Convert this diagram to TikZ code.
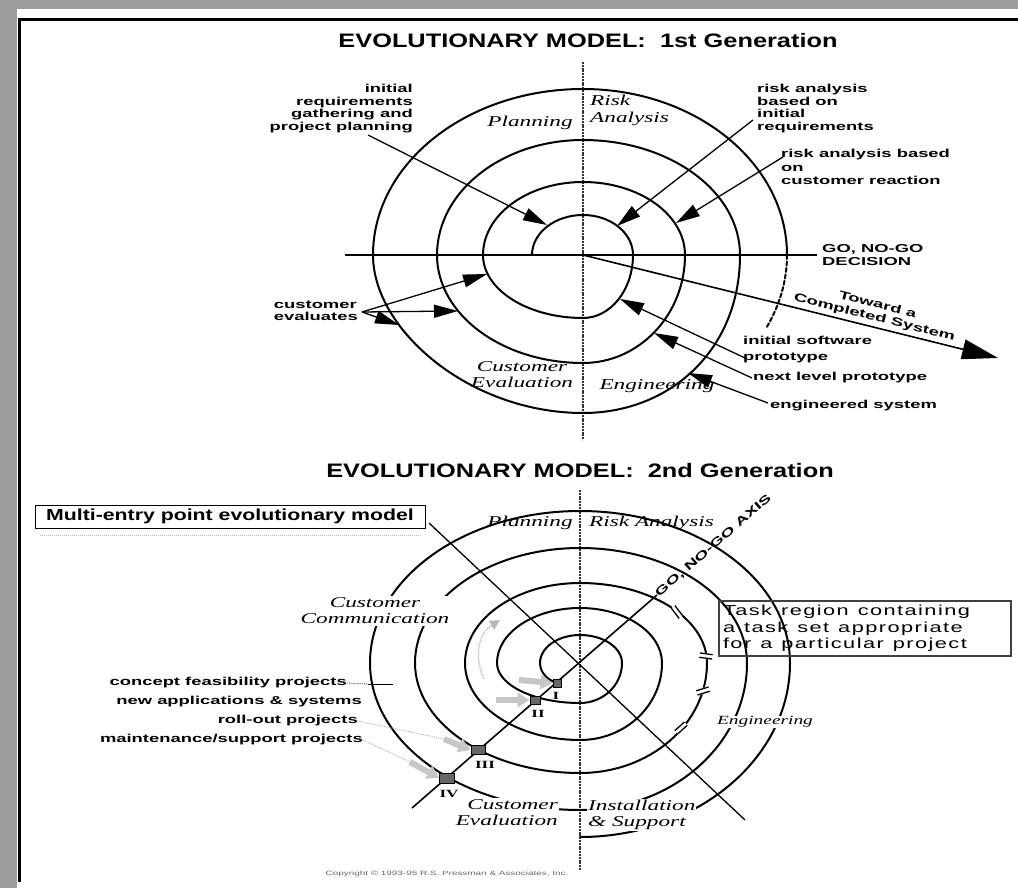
\documentclass[tikz,border=0pt]{standalone}
\usepackage{fontspec}
\setmainfont{Liberation Sans}
\newfontfamily\titlefont{Liberation Sans}[FakeStretch=1.3]
\newfontfamily\labelfont{Liberation Sans}[FakeStretch=1.6]
\newfontfamily\boxfont{Liberation Sans}[FakeStretch=1.33]
\newfontfamily\taskfont{Liberation Sans}[FakeStretch=1.5,LetterSpace=10]
\newfontfamily\phasefont{Liberation Serif}[FakeStretch=1.55]
\newcommand\taskgap{\hspace{9pt}}
\usetikzlibrary{arrows.meta}

\tikzset{
  ring/.style={line width=2pt, line cap=round},
  axisline/.style={line width=1.8pt},
  vertaxis/.style={line width=1.4pt, black!80, dash pattern=on 2pt off 0.8pt},
  pointer/.style={line width=1.3pt, -{Triangle[length=24pt,width=13pt]}},
  bigpointer/.style={line width=1.6pt, -{Triangle[length=36pt,width=20pt]}},
  lbl/.style={font=\labelfont\bfseries\fontsize{11.5}{12.5}\selectfont, inner sep=0pt},
  phase/.style={font=\phasefont\itshape\fontsize{15}{16}\selectfont, inner sep=1pt},
  heading/.style={font=\titlefont\bfseries\fontsize{19.5}{20}\selectfont, inner sep=0pt},
  entry/.style={line width=6pt, gray!45, -{Triangle[length=12pt,width=14pt]}},
  leader/.style={line width=0.9pt, gray!60, densely dotted},
  gate/.style={draw=black, line width=0.8pt, fill=black!60, inner sep=0pt},
  numeral/.style={font=\phasefont\bfseries\fontsize{11}{11}\selectfont, inner sep=0pt},
  tmark/.pic={\fill[white] (-3,-6.5) rectangle (3,6.5);
              \draw[line width=1.3pt] (-2.2,-6.5) -- (-2.2,6.5) (2.2,-6.5) -- (2.2,6.5);},
}

\begin{document}
\begin{tikzpicture}[x=1pt,y=1pt,yscale=-1]
\useasboundingbox (0,0) rectangle (1018,888);
\fill[white] (0,0) rectangle (1018,888);

% window frame
\fill[black!38] (0,0) rectangle (1018,9);
\fill[black!38] (0,0) rectangle (17,888);
\draw[line width=3pt] (19.5,882) -- (19.5,20) -- (1018,20);

%% ---------------- first generation ----------------
\node[heading] (head1) at (588,41) {EVOLUTIONARY MODEL:\ \ 1st Generation};

\draw[vertaxis] (583,62) -- (583,440);
\draw[axisline] (345,255) -- (817,255);

% outward spiral
\draw[ring] (532,255)
  arc[start angle=180,end angle=270,x radius=51,y radius=40]
  arc[start angle=270,end angle=360,x radius=50,y radius=40]
  arc[start angle=0,end angle=90,x radius=50,y radius=63]
  arc[start angle=90,end angle=180,x radius=100,y radius=63]
  arc[start angle=180,end angle=270,x radius=100,y radius=73]
  arc[start angle=270,end angle=360,x radius=102,y radius=73]
  arc[start angle=0,end angle=90,x radius=102,y radius=108]
  arc[start angle=90,end angle=180,x radius=146,y radius=108]
  arc[start angle=180,end angle=270,x radius=146,y radius=115]
  arc[start angle=270,end angle=360,x radius=157,y radius=115]
  .. controls (740,350) and (670,413) .. (583,413)
  .. controls (470,413) and (373,330) .. (373,255)
  arc[start angle=180,end angle=270,x radius=210,y radius=166]
  arc[start angle=270,end angle=360,x radius=204,y radius=166];
\draw[ring, dash pattern=on 4pt off 2.5pt] (787,255)
  arc[start angle=0,end angle=26,x radius=204,y radius=166];

% quadrant names
\node[phase] (plan1) at (530,123) {Planning};
\node[phase, anchor=north west, align=left] (risk1) at (589,94) {Risk\\[1pt]Analysis};
\node[phase, align=center] (ceval1) at (522,375) {Customer\\Evaluation};
\node[phase] (engr1) at (657,386) {Engineering};

% annotations
\node[lbl, anchor=north east, align=right] (irq) at (413,84)
  {initial\\requirements\\gathering and\\project planning};
\node[lbl, anchor=north west, align=left] (rai) at (757,84)
  {risk analysis\\based on\\initial\\requirements};
\node[lbl, anchor=north west, align=left, font=\labelfont\bfseries\fontsize{11.5}{13.5}\selectfont] (rac) at (781,149)
  {risk analysis based\\on\\customer reaction};
\node[lbl, anchor=north west, align=left, font=\labelfont\bfseries\fontsize{11.5}{13}\selectfont] (gng1) at (822,244)
  {GO, NO-GO\\DECISION};
\node[lbl, anchor=north west, align=left, font=\labelfont\bfseries\fontsize{11.5}{16}\selectfont] (isp) at (743,336)
  {initial software\\prototype};
\node[lbl, anchor=west] (nlp) at (753,378) {next level prototype};
\node[lbl, anchor=west] (eng) at (770,406) {engineered system};
\node[lbl, anchor=north east, align=left, font=\labelfont\bfseries\fontsize{11.5}{11.5}\selectfont] (cev) at (358,301)
  {customer\\evaluates};

\coordinate (irqA) at (368,135);  \coordinate (irqB) at (547,225);
\coordinate (raiA) at (753,120);  \coordinate (raiB) at (617,226);
\coordinate (racA) at (783,157);  \coordinate (racB) at (676,223);
\coordinate (ispA) at (745,358);  \coordinate (ispB) at (620,299);
\coordinate (nlpA) at (752,378);  \coordinate (nlpB) at (654,333);
\coordinate (engA) at (768,403);  \coordinate (engB) at (688,373);
\coordinate (cevA) at (362,312);
\coordinate (cevB) at (487,274);  \coordinate (cevC) at (458,311);  \coordinate (cevD) at (399,325);

\draw[pointer] (irqA) -- (irqB);
\draw[pointer] (raiA) -- (raiB);
\draw[pointer] (racA) -- (racB);
\draw[pointer] (ispA) -- (ispB);
\draw[pointer] (nlpA) -- (nlpB);
\draw[pointer] (engA) -- (engB);
\draw[pointer] (cevA) -- (cevB);
\draw[pointer] (cevA) -- (cevC);
\draw[pointer] (cevA) -- (cevD);

% toward the completed system
\coordinate (hub1) at (583,255);
\coordinate (goal) at (998,358);
\draw[bigpointer] (hub1) -- (goal);
\node[lbl, rotate=-14, anchor=south, align=center, font=\labelfont\bfseries\fontsize{11.5}{13}\selectfont] (toward) at (873,323)
  {Toward a\\Completed System};

%% ---------------- second generation ----------------
\node[heading] (head2) at (580,471) {EVOLUTIONARY MODEL:\ \ 2nd Generation};

\draw[vertaxis] (580,490) -- (580,870);

% diagonal through the entry points and the GO, NO-GO axis
\coordinate (gA) at (412,808);
\coordinate (gB) at (657,595);
\draw[line width=1.6pt] (gA) -- (gB);
\node[lbl, rotate=41, anchor=west] (gng2) at (gB) {GO, NO-GO AXIS};

% evolutionary spiral with entry points
\draw[ring] (557,683) .. controls (547,680) and (540,672) .. (540,663)
  arc[start angle=180,end angle=270,x radius=40,y radius=28]
  arc[start angle=270,end angle=360,x radius=42,y radius=28]
  arc[start angle=0,end angle=90,x radius=42,y radius=40]
  arc[start angle=90,end angle=180,x radius=83,y radius=40]
  arc[start angle=180,end angle=270,x radius=83,y radius=55]
  arc[start angle=270,end angle=360,x radius=82,y radius=55]
  arc[start angle=0,end angle=90,x radius=82,y radius=77]
  arc[start angle=90,end angle=180,x radius=115,y radius=77]
  arc[start angle=180,end angle=270,x radius=115,y radius=80]
  arc[start angle=270,end angle=360,x radius=127,y radius=80]
  arc[start angle=0,end angle=90,x radius=127,y radius=110]
  arc[start angle=90,end angle=180,x radius=165,y radius=110]
  arc[start angle=180,end angle=270,x radius=165,y radius=115]
  arc[start angle=270,end angle=360,x radius=167,y radius=115]
  arc[start angle=0,end angle=90,x radius=167,y radius=147]
  arc[start angle=90,end angle=180,x radius=210,y radius=147]
  arc[start angle=180,end angle=270,x radius=210,y radius=152]
  arc[start angle=270,end angle=360,x radius=210,y radius=152]
  arc[start angle=0,end angle=90,x radius=210,y radius=174];

% multi-entry box and its diagonal
\draw[gray!55, line width=1pt, densely dotted] (40,535) -- (421,535);
\node[draw, line width=1pt, inner sep=0pt, minimum width=390pt, minimum height=23pt,
      font=\boxfont\bfseries\fontsize{16}{16}\selectfont] (mbox) at (230,516.5)
  {Multi-entry point evolutionary model};
\coordinate (dA) at (429,523);
\coordinate (dB) at (745,820);
\draw[line width=1.3pt] (dA) -- (dB);

% task markers on the third ring
\pic[rotate=37]  at (677,612) {tmark};
\pic[rotate=82]  at (706,656) {tmark};
\pic[rotate=-73] at (703,691) {tmark};
\pic[rotate=-48] at (681,728) {tmark};

% task region box
\node[draw=black!75, line width=2pt, anchor=north west, align=left, inner sep=4pt, text width=284pt,
      font=\taskfont\fontsize{14.5}{16.5}\selectfont] (taskbox) at (718,600)
  {Task\taskgap region\taskgap containing\\a\taskgap task\taskgap set\taskgap appropriate\\for\taskgap a\taskgap particular\taskgap project};

% quadrant names
\node[phase] (plan2) at (530,523) {Planning};
\node[phase, anchor=west] (risk2) at (588,523) {Risk Analysis};
\node[phase, fill=white, align=center, inner sep=2pt] (cc2) at (375,611) {Customer\\Communication};
\node[phase, fill=white, align=right, anchor=north east] (ce2) at (559,798) {Customer\\Evaluation};
\node[phase, fill=white, align=left, anchor=north west] (is2) at (587,799) {Installation\\\& Support};
\node[phase, fill=white, font=\phasefont\itshape\fontsize{12.5}{13}\selectfont] (eng2) at (765,722) {Engineering};

% direction of travel
\draw[gray!55, line width=1.3pt, densely dotted, -{Triangle[length=10pt,width=10pt]}]
  (484,679) .. controls (474,657) and (478,634) .. (500,620);

% project types and entry arrows
\node[lbl, anchor=east] (cf) at (347,683) {concept feasibility projects};
\node[lbl, anchor=east] (na) at (362,702) {new applications \& systems};
\node[lbl, anchor=east] (ro) at (358,721) {roll-out projects};
\node[lbl, anchor=east] (ms) at (363,740) {maintenance/support projects};

\coordinate (cfM) at (368,684);
\coordinate (cfE) at (393,684);
\draw[line width=0.9pt, black!70, densely dotted] (cf.east) -- (cfM);
\draw[line width=0.9pt] (cfM) -- (cfE);

\node[gate, minimum width=8pt, minimum height=8pt] (gI) at (557,683) {};
\node[gate, minimum width=10pt, minimum height=8pt] (gII) at (535,700) {};
\node[gate, minimum width=14pt, minimum height=9pt] (gIII) at (478,750) {};
\node[gate, minimum width=15pt, minimum height=10pt] (gIV) at (447,778) {};

\coordinate (eI) at (519,680);
\coordinate (eII) at (496,700);
\coordinate (eIII) at (444,739);
\coordinate (eIV) at (410,762);
\draw[leader] (ro.east) -- (eIII);
\draw[leader] (ms.east) -- (eIV);
\draw[entry] (eI) -- (gI.west);
\draw[entry] (eII) -- (gII.west);
\draw[entry] (eIII) -- (gIII.west);
\draw[entry] (eIV) -- (gIV.west);

\node[numeral] (nI) at (556,696) {I};
\node[numeral] (nII) at (538,714) {II};
\node[numeral] (nIII) at (485,765) {III};
\node[numeral] (nIV) at (449,794) {IV};

\node[font=\labelfont\fontsize{6.2}{6.2}\selectfont, text=black!60, inner sep=0pt] (copy) at (447,874)
  {Copyright \textcopyright\ 1993-95 R.S. Pressman \& Associates, Inc.};
\end{tikzpicture}
\end{document}
